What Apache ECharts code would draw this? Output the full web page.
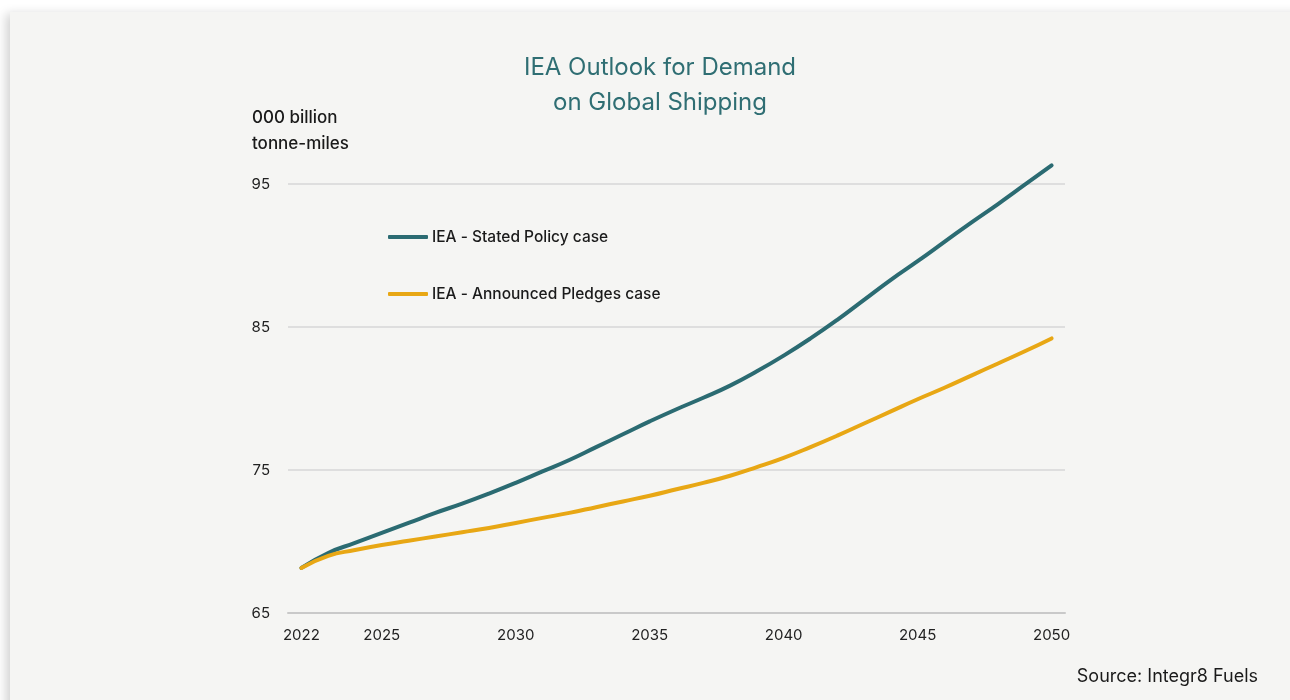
<!DOCTYPE html>
<html>
<head>
	<meta http-equiv="Content-Type" content="text/html;charset=utf-8">
	<title>IEA Outlook for Demand on Global Shipping</title>
	<style>
	  html, body{
		margin: 0;
		padding: 0;
		background: #fff;
	  }

	  .card{
		position: absolute;
		left: 10px;
		top: 12px;
		width: 1300px;
		height: 700px;
		background: #f5f5f3;
		box-shadow: -4px 2px 10px rgba(0,0,0,0.18);
	  }

	  #chart{
		position: absolute;
		left: 0;
		top: 0;
		width: 1290px;
		height: 700px;
	  }
	</style>
</head>

<body>
<div class="card"></div>
<div id="chart"></div>

<script src="https://cdn.jsdelivr.net/npm/echarts@6/dist/echarts.min.js"></script>
<script>
	// 年份与两条情景曲线（单位：000 billion tonne-miles）
	var years = [2022, 2023, 2024, 2025, 2026, 2027, 2028, 2029, 2030, 2031,
		2032, 2033, 2034, 2035, 2036, 2037, 2038, 2039, 2040, 2041,
		2042, 2043, 2044, 2045, 2046, 2047, 2048, 2049, 2050];

	var statedPolicy = [68.15, 69.2, 69.9, 70.6, 71.3, 72.0, 72.65, 73.35, 74.1, 74.9,
		75.7, 76.6, 77.5, 78.4, 79.25, 80.05, 80.9, 81.9, 83.0, 84.2,
		85.5, 86.9, 88.3, 89.6, 90.95, 92.3, 93.6, 94.95, 96.3];

	var announcedPledges = [68.15, 69.0, 69.4, 69.75, 70.05, 70.35, 70.65, 70.95, 71.3, 71.65,
		72.0, 72.4, 72.8, 73.2, 73.65, 74.1, 74.6, 75.2, 75.85, 76.6,
		77.4, 78.25, 79.1, 79.95, 80.75, 81.6, 82.45, 83.3, 84.2];

	var xTickLabels = [2022, 2025, 2030, 2035, 2040, 2045, 2050];

	var seriesNames = ['IEA - Stated Policy case', 'IEA - Announced Pledges case'];
	var colors = ['#2b6b72', '#e8a714'];

	function toPairs(vals){
		var out = [];
		for(var i = 0; i < years.length; i++){
			out.push([years[i], vals[i]]);
		}
		return out;
	}

	var fontFamily = 'Inter, "Noto Sans", sans-serif';

	var option = {
		animation: false,
		textStyle: { fontFamily: fontFamily },
		title: [
			{
				text: 'IEA Outlook for Demand\non Global Shipping',
				left: 655,
				top: 45,
				textAlign: 'center',
				textStyle: {
					color: '#2f6e73',
					fontSize: 24,
					fontWeight: 'normal',
					lineHeight: 35,
					fontFamily: fontFamily
				}
			},
			{
				text: '000 billion\ntonne-miles',
				left: 247,
				top: 100,
				textStyle: {
					color: '#1a1a1a',
					fontSize: 17,
					fontWeight: 500,
					lineHeight: 26,
					fontFamily: fontFamily
				}
			},
			{
				text: 'Source: Integr8 Fuels',
				right: 27,
				top: 663,
				textStyle: {
					color: '#1a1a1a',
					fontSize: 18,
					fontWeight: 'normal',
					fontFamily: fontFamily
				}
			}
		],
		legend: {
			orient: 'vertical',
			left: 388,
			top: 229,
			padding: 0,
			icon: 'roundRect',
			itemWidth: 40,
			itemHeight: 4,
			itemGap: 41,
			data: seriesNames,
			textStyle: {
				color: '#1a1a1a',
				fontSize: 15.5,
				fontWeight: 500,
				padding: [0, 0, 0, -1],
				fontFamily: fontFamily
			}
		},
		grid: {
			left: 288,
			right: 225,
			top: 184,
			bottom: 87
		},
		xAxis: {
			type: 'value',
			min: 2021.5,
			max: 2050.5,
			axisLine: { show: true, lineStyle: { color: '#c9c9c9', width: 2 } },
			axisTick: { show: false },
			splitLine: { show: false },
			axisLabel: {
				customValues: xTickLabels,
				color: '#222',
				fontSize: 15,
				margin: 15,
				fontFamily: fontFamily,
				formatter: function(v){ return String(v); }
			}
		},
		yAxis: {
			type: 'value',
			min: 65,
			max: 95,
			interval: 10,
			axisLine: { show: false },
			axisTick: { show: false },
			splitLine: { lineStyle: { color: '#dedede', width: 2 } },
			axisLabel: {
				color: '#222',
				fontSize: 15,
				margin: 18,
				fontFamily: fontFamily
			}
		},
		series: [
			{
				name: seriesNames[0],
				type: 'line',
				smooth: true,
				symbol: 'none',
				clip: false,
				data: toPairs(statedPolicy),
				itemStyle: { color: colors[0] },
				lineStyle: { color: colors[0], width: 4, cap: 'round' }
			},
			{
				name: seriesNames[1],
				type: 'line',
				smooth: true,
				symbol: 'none',
				clip: false,
				data: toPairs(announcedPledges),
				itemStyle: { color: colors[1] },
				lineStyle: { color: colors[1], width: 4, cap: 'round' }
			}
		]
	};

	var myChart = echarts.init(document.getElementById('chart'));
	myChart.setOption(option);
</script>
</body>
</html>
